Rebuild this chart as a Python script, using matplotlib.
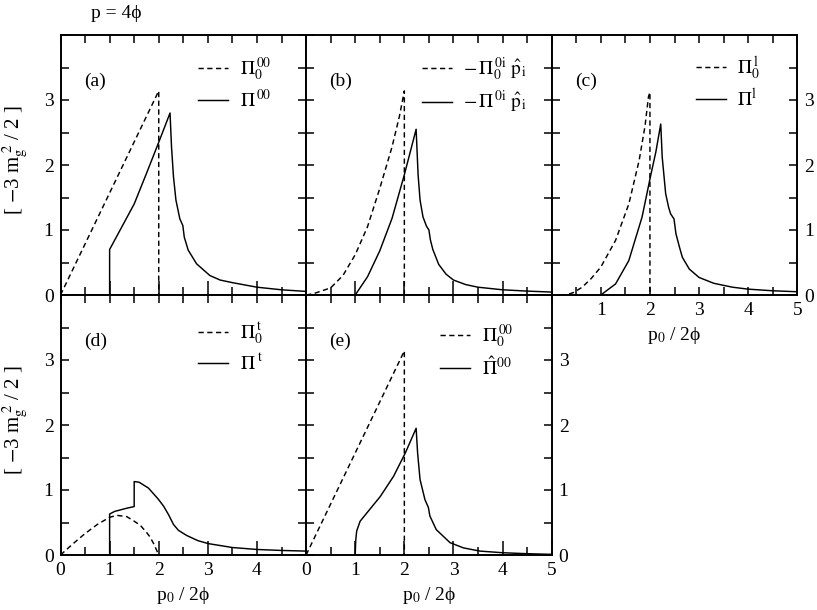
import matplotlib
matplotlib.use('Agg')
import matplotlib.pyplot as plt
from matplotlib.ticker import FixedLocator, MultipleLocator

plt.rcParams['font.family'] = ['Liberation Serif', 'DejaVu Serif']
plt.rcParams['mathtext.fontset'] = 'stix'
plt.rcParams['font.size'] = 14

# ---- data (x in p0/2phi, y in units of -3 m_g^2/2) ----
# (a) Pi^00
a_free_x = [0.0, 2.0, 2.0]
a_free_y = [0.0, 3.14, 0.0]
a_full_x = [1.0, 1.0, 1.25, 1.5, 1.75, 2.0, 2.23, 2.26, 2.30, 2.35, 2.43, 2.49, 2.52,
            2.60, 2.77, 3.04, 3.25, 3.5, 4.0, 4.5, 5.0]
a_full_y = [0.0, 0.70, 1.05, 1.40, 1.87, 2.35, 2.80, 2.28, 1.82, 1.46, 1.17, 1.07, 0.89,
            0.69, 0.48, 0.30, 0.23, 0.19, 0.12, 0.08, 0.055]

# (b) -Pi^0i p_i
b_free_x = [0.0, 0.15, 0.5, 0.75, 1.0, 1.25, 1.5, 1.75, 1.9, 2.0, 2.0]
b_free_y = [0.0, 0.02, 0.11, 0.30, 0.62, 1.05, 1.64, 2.28, 2.75, 3.14, 0.0]
b_full_x = [1.0, 1.25, 1.5, 1.75, 2.0, 2.24, 2.26, 2.28, 2.32, 2.38, 2.45, 2.5, 2.53,
            2.58, 2.7, 2.85, 3.0, 3.25, 3.5, 4.0, 4.5, 5.0]
b_full_y = [0.0, 0.28, 0.68, 1.18, 1.85, 2.55, 2.20, 1.85, 1.46, 1.20, 1.06, 1.00, 0.85,
            0.70, 0.47, 0.32, 0.23, 0.16, 0.12, 0.08, 0.06, 0.045]

# (c) Pi^l
c_free_x = [0.0, 0.3, 0.45, 0.62, 0.8, 1.0, 1.3, 1.57, 1.78, 1.9, 1.97, 2.0, 2.0]
c_free_y = [0.0, 0.0, 0.04, 0.12, 0.25, 0.43, 0.84, 1.40, 2.07, 2.60, 3.05, 3.12, 0.0]
c_full_x = [1.0, 1.3, 1.57, 1.84, 2.01, 2.12, 2.22, 2.25, 2.29, 2.32, 2.38, 2.42, 2.49,
            2.53, 2.6, 2.66, 2.8, 3.0, 3.3, 3.68, 4.0, 4.5, 5.0]
c_full_y = [0.0, 0.17, 0.53, 1.20, 1.82, 2.20, 2.63, 2.12, 1.80, 1.56, 1.35, 1.25, 1.17,
            0.94, 0.74, 0.58, 0.40, 0.27, 0.18, 0.12, 0.09, 0.065, 0.05]

# (d) Pi^t
d_free_x = [0.0, 0.25, 0.5, 0.75, 1.0, 1.15, 1.35, 1.5, 1.62, 1.75, 1.82, 1.9, 2.0]
d_free_y = [0.0, 0.17, 0.33, 0.47, 0.58, 0.61, 0.59, 0.52, 0.46, 0.35, 0.28, 0.17, 0.0]
d_full_x = [1.0, 1.0, 1.1, 1.25, 1.35, 1.5, 1.5, 1.6, 1.79, 1.99, 2.1, 2.2, 2.3, 2.4,
            2.57, 2.8, 3.01, 3.5, 4.0, 4.5, 5.0]
d_full_y = [0.0, 0.63, 0.67, 0.70, 0.72, 0.745, 1.13, 1.12, 1.03, 0.86, 0.75, 0.62, 0.47,
            0.38, 0.30, 0.22, 0.175, 0.115, 0.085, 0.07, 0.06]

# (e) Pi^00 hat
e_free_x = [0.0, 2.0, 2.0]
e_free_y = [0.0, 3.14, 0.0]
e_full_x = [1.0, 1.01, 1.03, 1.1, 1.24, 1.51, 1.78, 2.02, 2.24, 2.27, 2.32, 2.42, 2.49,
            2.52, 2.65, 2.93, 3.2, 3.54, 4.0, 4.5, 5.0]
e_full_y = [0.0, 0.22, 0.37, 0.52, 0.65, 0.90, 1.21, 1.57, 1.95, 1.57, 1.16, 0.85, 0.73,
            0.60, 0.39, 0.19, 0.11, 0.06, 0.035, 0.02, 0.01]

x_ticks = [0, 1, 2, 3, 4, 5]
y_ticks = [0, 1, 2, 3]
ylabel = r'[ $-$3 m$_\mathrm{g}^{\ 2}$ / 2 ]'
xlabel = 'p$_0$ / 2\u03d5'
title = 'p = 4\u03d5'

W, H = 817.0, 610.0
fig = plt.figure(figsize=(W / 100, H / 100), dpi=100)


def panel(left, top, tag, xs, leg_labels, leg_pos, xlabs, ylabs, right=False, long_major=True):
    ax = fig.add_axes([left / W, 1 - (top + 260) / H, 245.6 / W, 260 / H])
    (fx, fy), (sx, sy) = xs
    ax.plot(fx, fy, color='k', lw=1.05, dashes=(3.6, 2.4), label=leg_labels[0])
    ax.plot(sx, sy, color='k', lw=1.05, label=leg_labels[1])
    ax.set_xlim(0, 5)
    ax.set_ylim(0, 4)
    ax.xaxis.set_major_locator(FixedLocator(x_ticks))
    ax.xaxis.set_minor_locator(MultipleLocator(0.5))
    ax.yaxis.set_major_locator(FixedLocator(y_ticks))
    ax.yaxis.set_minor_locator(MultipleLocator(0.5))
    ax.set_xticklabels(xlabs)
    ax.set_yticklabels(ylabs)
    ax.tick_params(which='both', direction='in', top=True, right=True, length=5.5, width=1.1)
    ax.tick_params(axis='x', pad=5)
    if right:
        ax.tick_params(axis='y', labelleft=False, labelright=True, pad=5)
    else:
        ax.tick_params(axis='y', pad=5)
    if long_major:
        for t in ax.xaxis.get_major_ticks():
            t.tick1line.set_markersize(10)
    for s in ax.spines.values():
        s.set_linewidth(1.4)
    ax.text(0.095, 0.82, tag, transform=ax.transAxes, ha='left', va='center')
    ax.legend(frameon=False, loc='upper left', bbox_to_anchor=leg_pos, borderaxespad=0,
              borderpad=0, handlelength=1.55, handletextpad=0.6, labelspacing=0.3)
    return ax


blank = [''] * 6
ax_a = panel(60.5, 35, '(a)', ((a_free_x, a_free_y), (a_full_x, a_full_y)),
             [r'$\Pi_0^{\,00}$', r'$\Pi^{\,00}$'], (0.56, 0.92),
             blank, ['0', '1', '2', '3'])
ax_b = panel(306.1, 35, '(b)', ((b_free_x, b_free_y), (b_full_x, b_full_y)),
             [r'$-\,\Pi_0^{\,0\mathrm{i}}\ \hat{\mathrm{p}}_\mathrm{i}$',
              r'$-\,\Pi^{\,0\mathrm{i}}\ \hat{\mathrm{p}}_\mathrm{i}$'], (0.47, 0.92),
             blank, ['', '', '', ''])
ax_c = panel(551.7, 35, '(c)', ((c_free_x, c_free_y), (c_full_x, c_full_y)),
             [r'$\Pi_0^{\,\mathrm{l}}$', r'$\Pi^{\mathrm{l}}$'], (0.586, 0.925),
             ['', '1', '2', '3', '4', '5'], ['0', '1', '2', '3'], right=True, long_major=False)
ax_d = panel(60.5, 295, '(d)', ((d_free_x, d_free_y), (d_full_x, d_full_y)),
             [r'$\Pi_0^{\,\mathrm{t}}$', r'$\Pi^{\ \mathrm{t}}$'], (0.56, 0.90),
             ['0', '1', '2', '3', '4', ''], ['0', '1', '2', '3'])
ax_e = panel(306.1, 295, '(e)', ((e_free_x, e_free_y), (e_full_x, e_full_y)),
             [r'$\Pi_0^{\,00}$', r'$\hat{\Pi}^{00}$'], (0.546, 0.895),
             ['0', '1', '2', '3', '4', '5'], ['0', '1', '2', '3'], right=True)

for ax in (ax_a, ax_d):
    ax.set_ylabel(ylabel, fontsize=15)
    ax.yaxis.set_label_coords(-0.124, 0.52)
for ax in (ax_c, ax_d, ax_e):
    ax.set_xlabel(xlabel, labelpad=4)

fig.text(116 / W, 1 - 13 / H, title, ha='center', va='center')

fig.savefig('out.png', dpi=100)
